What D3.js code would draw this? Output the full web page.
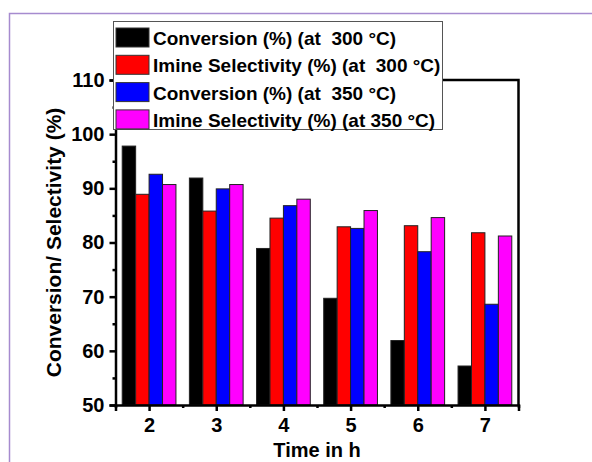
<!DOCTYPE html>
<html>
<head>
<meta charset="utf-8">
<script src="https://cdn.jsdelivr.net/npm/d3@7"></script>
<style>
  body { margin: 0; background: #fff; }
  svg text { font-family: Arial, "Liberation Sans", sans-serif; font-weight: bold; white-space: pre; }
</style>
</head>
<body>
<div id="chart"></div>
<script>
var w = 592;
var h = 462;
var plotLeft = 115.5, plotRight = 518.5, plotTop = 80, plotBottom = 405;

// hours on the x axis
var times = [2, 3, 4, 5, 6, 7];
var seriesNames = [
  "Conversion (%) (at  300 °C)",
  "Imine Selectivity (%) (at  300 °C)",
  "Conversion (%) (at  350 °C)",
  "Imine Selectivity (%) (at 350 °C)"
];
var seriesColors = ["#000000", "#ff0000", "#0000ff", "#ff00ff"];
var conv300 = [97.8, 91.9, 78.9, 69.7, 61.9, 57.2];
var sel300 = [88.9, 85.8, 84.5, 82.9, 83.1, 81.8];
var conv350 = [92.6, 89.9, 86.8, 82.6, 78.3, 68.6];
var sel350 = [90.7, 90.7, 88.0, 85.9, 84.6, 81.2];
var yTicks = [50, 60, 70, 80, 90, 100, 110];

var series = [conv300, sel300, conv350, sel350];

var svg = d3.select("#chart").append("svg")
  .attr("width", w)
  .attr("height", h);

// outer purple frame (only top/left visible)
svg.append("path")
  .attr("d", "M9.5," + h + " L9.5,13.5 L" + w + ",13.5")
  .attr("fill", "none")
  .attr("stroke", "#a68bcf")
  .attr("stroke-width", 1.5);

var x = d3.scaleLinear().domain([1.5, 7.5]).range([plotLeft, plotRight]);
var y = d3.scaleLinear().domain([50, 110]).range([plotBottom, plotTop]);
var bw = x(1.7) - x(1.5);

// bars
series.forEach(function(vals, si) {
  svg.append("g")
    .selectAll("rect")
    .data(vals)
    .enter().append("rect")
    .attr("x", function(d, i) { return x(times[i]) - 2 * bw + si * bw; })
    .attr("y", function(d) { return y(d); })
    .attr("width", bw)
    .attr("height", function(d) { return y(50) - y(d); })
    .attr("fill", seriesColors[si])
    .attr("stroke", "#222")
    .attr("stroke-width", 1);
});

// left axis
svg.append("g")
  .attr("transform", "translate(" + plotLeft + ",0)")
  .call(d3.axisLeft(y).tickValues(yTicks).tickSize(6).tickPadding(5).tickFormat(d3.format("d")));
svg.append("g")
  .attr("transform", "translate(" + plotLeft + ",0)")
  .call(d3.axisLeft(y).tickValues([55, 65, 75, 85, 95, 105]).tickSize(3).tickFormat(""))
  .select(".domain").remove();

// bottom axis
svg.append("g")
  .attr("transform", "translate(0," + plotBottom + ")")
  .call(d3.axisBottom(x).tickValues(times).tickSize(6).tickPadding(7).tickFormat(d3.format("d")));
svg.append("g")
  .attr("transform", "translate(0," + plotBottom + ")")
  .call(d3.axisBottom(x).tickValues([1.5, 2.5, 3.5, 4.5, 5.5, 6.5, 7.5]).tickSize(3).tickFormat(""))
  .select(".domain").remove();

svg.selectAll(".tick line").attr("stroke", "#000").attr("stroke-width", 2.5);
svg.selectAll(".domain").attr("stroke", "#000").attr("stroke-width", 2.5);
svg.selectAll(".tick text").attr("fill", "#000").style("font-size", "20px");

// top and right frame
svg.append("path")
  .attr("d", "M" + plotLeft + "," + plotTop + " L" + plotRight + "," + plotTop + " L" + plotRight + "," + plotBottom)
  .attr("fill", "none")
  .attr("stroke", "#000")
  .attr("stroke-width", 2.5);

// axis titles
svg.append("text")
  .attr("transform", "translate(61," + ((plotTop + plotBottom) / 2) + ") rotate(-90)")
  .attr("text-anchor", "middle")
  .style("font-size", "21px")
  .text("Conversion/ Selectivity (%)");

svg.append("text")
  .attr("x", (plotLeft + plotRight) / 2)
  .attr("y", 457)
  .attr("text-anchor", "middle")
  .style("font-size", "20px")
  .text("Time in h");

// legend
var legend = svg.append("g");
legend.append("rect")
  .attr("x", 113.5).attr("y", 21.5)
  .attr("width", 329).attr("height", 108)
  .attr("fill", "#fff")
  .attr("stroke", "#555")
  .attr("stroke-width", 1);

var rows = legend.selectAll("g.row")
  .data(seriesNames)
  .enter().append("g")
  .attr("class", "row")
  .attr("transform", function(d, i) { return "translate(116," + (28 + i * 27.3) + ")"; });

rows.append("rect")
  .attr("width", 33).attr("height", 19)
  .attr("fill", function(d, i) { return seriesColors[i]; })
  .attr("stroke", "#333")
  .attr("stroke-width", 1);

rows.append("text")
  .attr("x", 37)
  .attr("y", 17)
  .style("font-size", "19px")
  .text(function(d) { return d; });
</script>
</body>
</html>
